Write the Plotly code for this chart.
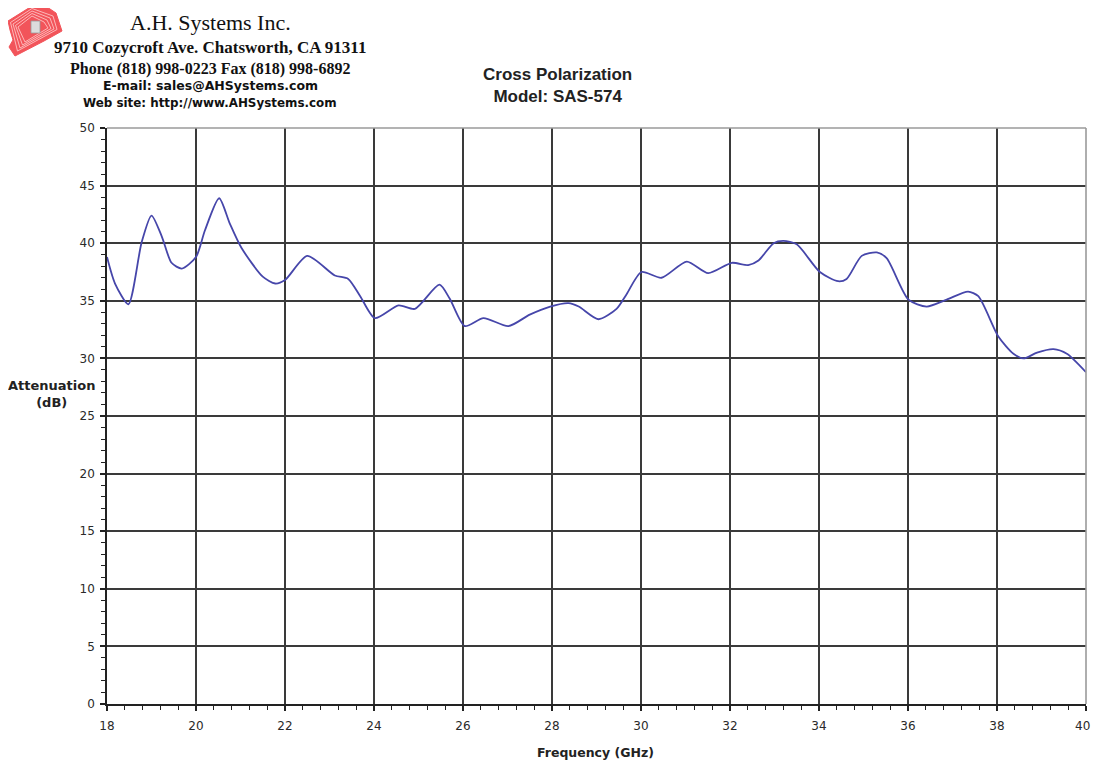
import plotly.graph_objects as go

# ---- data ----
freq_ghz = [18.0, 18.18, 18.48, 18.78, 19.0, 19.23, 19.45, 19.68, 20.0, 20.2, 20.52, 20.76,
            21.02, 21.5, 21.78, 22.0, 22.5, 23.12, 23.42, 23.69, 24.02, 24.55, 24.92, 25.47,
            25.7, 26.04, 26.46, 27.02, 27.5, 27.96, 28.37, 28.6, 29.04, 29.45, 29.68, 30.01,
            30.46, 31.03, 31.51, 32.04, 32.41, 32.64, 32.98, 33.2, 33.5, 34.02, 34.43, 34.62,
            34.96, 35.3, 35.52, 36.01, 36.42, 36.87, 37.35, 37.58, 38.03, 38.37, 38.6, 38.9,
            39.27, 39.57, 40.0]
atten_db = [38.8, 36.5, 34.7, 40.1, 42.4, 40.6, 38.3, 37.8, 38.8, 41.1, 43.9, 41.7,
            39.6, 37.1, 36.5, 36.8, 38.9, 37.2, 36.9, 35.4, 33.5, 34.6, 34.3, 36.4,
            35.2, 32.8, 33.5, 32.8, 33.8, 34.5, 34.8, 34.5, 33.4, 34.3, 35.6, 37.5,
            37.0, 38.4, 37.4, 38.3, 38.1, 38.5, 40.0, 40.2, 39.9, 37.5, 36.7, 36.9,
            38.9, 39.2, 38.7, 35.1, 34.5, 35.1, 35.8, 35.4, 31.9, 30.4, 30.0, 30.5,
            30.8, 30.4, 28.8]

x_ticks = [18, 20, 22, 24, 26, 28, 30, 32, 34, 36, 38, 40]
y_ticks = [0, 5, 10, 15, 20, 25, 30, 35, 40, 45, 50]

header_lines = ["A.H. Systems Inc.",
                "9710 Cozycroft Ave. Chatsworth, CA 91311",
                "Phone (818) 998-0223 Fax (818) 998-6892",
                "E-mail: sales@AHSystems.com",
                "Web site: http://www.AHSystems.com"]
chart_title = ["Cross Polarization", "Model: SAS-574"]

# page offset (browser body margin) and plot area in page pixels
OFF = 8
W, H = 1084, 755
L, R, T, B = 107, 1086, 128, 704


def px(x):
    return (x - L) / (R - L)


def py(y):
    return (B - y) / (B - T)


fig = go.Figure()
fig.add_trace(go.Scatter(x=freq_ghz, y=atten_db, mode="lines",
                         line=dict(color="#4646aa", width=1.8, shape="spline", smoothing=0.7),
                         hoverinfo="x+y", showlegend=False))

axis_font = dict(family="DejaVu Sans, Verdana, sans-serif", size=12, color="#2a2a2a")
# the last x label sits on the figure edge, so it is drawn as an annotation below
x_ticktext = [str(v) for v in x_ticks[:-1]] + [""]
fig.update_xaxes(range=[18, 40], tickvals=x_ticks, ticktext=x_ticktext,
                 showgrid=True, gridcolor="#3a3a3a", gridwidth=1.6,
                 showline=True, linecolor="#222222", linewidth=1.6,
                 ticks="outside", ticklen=5, tickcolor="#222222", tickwidth=1.5,
                 tickfont=axis_font, zeroline=False, ticklabelstandoff=5,
                 minor=dict(dtick=0.4, tick0=18, ticks="outside", ticklen=4,
                            tickcolor="#222222", tickwidth=1.3, showgrid=False))
fig.update_yaxes(range=[0, 50], tickvals=y_ticks, ticktext=[str(v) for v in y_ticks],
                 showgrid=True, gridcolor="#3a3a3a", gridwidth=1.6,
                 showline=True, linecolor="#222222", linewidth=1.6,
                 ticks="outside", ticklen=5, tickcolor="#222222", tickwidth=1.5,
                 tickfont=axis_font, zeroline=False, ticklabelstandoff=3,
                 minor=dict(dtick=1, tick0=0, ticks="outside", ticklen=4,
                            tickcolor="#222222", tickwidth=1.3, showgrid=False))

shapes = []
# light gray top and right border
shapes.append(dict(type="line", xref="paper", yref="paper", x0=0, x1=1, y0=1, y1=1,
                   line=dict(color="#9a9a9a", width=1.6)))
shapes.append(dict(type="line", xref="paper", yref="paper", x0=1, x1=1, y0=0, y1=1,
                   line=dict(color="#9a9a9a", width=1.6)))

# logo (red striped emblem)
logo = [(8, 21), (32, 6), (44, 5), (56, 13), (62, 31), (44, 41), (15, 56), (9, 47), (13, 40), (10, 30)]
path = "M " + " L ".join(f"{px(a):.5f},{py(b):.5f}" for a, b in logo) + " Z"
shapes.append(dict(type="path", xref="paper", yref="paper", path=path,
                   fillcolor="#f2545a", line=dict(color="#f2545a", width=1)))
for k in range(1, 5):
    inner = [(8 + 2.5 * k, 21 + 1.5 * k), (32, 6 + 2.5 * k), (56 - 3 * k, 14 + 2 * k),
             (60 - 3 * k, 30 - 0.5 * k), (15 + 2.5 * k, 54 - 3 * k)]
    p = "M " + " L ".join(f"{px(a):.5f},{py(b):.5f}" for a, b in inner) + " Z"
    shapes.append(dict(type="path", xref="paper", yref="paper", path=p,
                       fillcolor="rgba(0,0,0,0)", line=dict(color="#ffd0d0", width=0.8)))
shapes.append(dict(type="rect", xref="paper", yref="paper",
                   x0=px(31), x1=px(40), y0=py(33), y1=py(21),
                   fillcolor="#dcdcdc", line=dict(color="#9a9a9a", width=0.8)))

# faint watermark fragment at top
for poly in [[(400, 0), (414, 0), (411, 5), (404, 5)], [(430, 0), (500, 0), (496, 5), (434, 5)]]:
    p = "M " + " L ".join(f"{px(a):.5f},{py(b):.5f}" for a, b in poly) + " Z"
    shapes.append(dict(type="path", xref="paper", yref="paper", path=p,
                       fillcolor="#dbe4f4", line=dict(width=0)))

ann = []
serif = "Liberation Serif, Times New Roman, serif"
sans = "DejaVu Sans, Verdana, sans-serif"
lsans = "Liberation Sans, Arial, sans-serif"
hdr = [(header_lines[0], 23, serif, 22, False),
       (header_lines[1], 47, serif, 17, True),
       (header_lines[2], 69, serif, 16, True),
       (header_lines[3], 86, sans, 12.5, True),
       (header_lines[4], 103, sans, 11.9, True)]
for text, yy, fam, size, bold in hdr:
    ann.append(dict(text=f"<b>{text}</b>" if bold else text, xref="paper", yref="paper",
                    x=px(210), y=py(yy), xanchor="center", yanchor="middle", showarrow=False,
                    font=dict(family=fam, size=size, color="#111111")))
ann.append(dict(text=f"<b>{chart_title[0]}</b><br><b>{chart_title[1]}</b>", xref="paper", yref="paper",
                x=px(557), y=py(85), xanchor="center", yanchor="middle", showarrow=False,
                font=dict(family=lsans, size=17, color="#222222")))
ann.append(dict(text="<b>Attenuation</b><br><b>(dB)</b>", xref="paper", yref="paper",
                x=px(51), y=py(394), xanchor="center", yanchor="middle", showarrow=False,
                font=dict(family=sans, size=13, color="#222222")))
ann.append(dict(text="<b>Frequency (GHz)</b>", xref="paper", yref="paper",
                x=px(595), y=py(752), xanchor="center", yanchor="middle", showarrow=False,
                font=dict(family=sans, size=12.5, color="#222222")))
# last x tick label, kept inside the figure edge
ann.append(dict(text=str(x_ticks[-1]), xref="paper", yref="paper",
                x=px(OFF + W), y=py(726), xanchor="right", yanchor="middle", showarrow=False,
                xshift=0, font=axis_font))

fig.update_layout(width=W, height=H,
                  margin=dict(l=L - OFF, r=(OFF + W) - R, t=T - OFF, b=(OFF + H) - B),
                  paper_bgcolor="white", plot_bgcolor="white",
                  shapes=shapes, annotations=ann, showlegend=False)

fig.write_html("out.html")
